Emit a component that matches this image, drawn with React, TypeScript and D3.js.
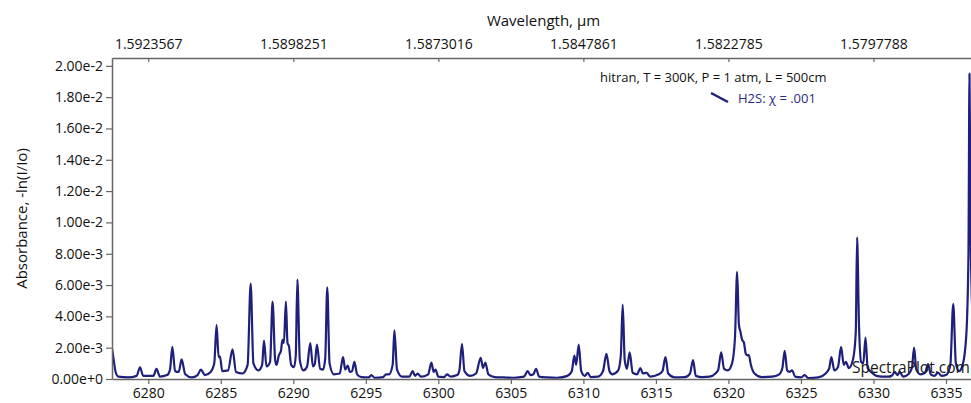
import React, { useRef, useEffect } from 'react';
import * as d3 from 'd3';

// spectrum: wavenumber (cm-1) and absorbance (x 1e-3)
const wavenumber = [
  6277.5, 6277.62, 6277.75, 6277.95, 6278.6, 6279.2, 6279.43, 6279.65, 6280.35, 6280.57,
  6280.8, 6281.3, 6281.5, 6281.66, 6281.85, 6282.1, 6282.3, 6282.55, 6283.0, 6283.4,
  6283.63, 6283.9, 6284.3, 6284.55, 6284.71, 6284.85, 6284.94, 6285.1, 6285.5, 6285.81,
  6286.05, 6286.5, 6286.85, 6287.06, 6287.25, 6287.6, 6287.85, 6287.98, 6288.15, 6288.4,
  6288.57, 6288.75, 6288.85, 6289.0, 6289.15, 6289.25, 6289.35, 6289.49, 6289.6, 6289.7,
  6289.85, 6290.05, 6290.17, 6290.28, 6290.45, 6290.7, 6290.95, 6291.17, 6291.35, 6291.48,
  6291.63, 6291.85, 6292.05, 6292.2, 6292.34, 6292.5, 6292.8, 6293.2, 6293.43, 6293.58,
  6293.75, 6293.9, 6294.05, 6294.21, 6294.4, 6294.7, 6295.2, 6295.38, 6295.6, 6296.2,
  6296.39, 6296.6, 6296.85, 6296.97, 6297.15, 6297.5, 6298.0, 6298.23, 6298.4, 6298.57,
  6298.8, 6299.3, 6299.52, 6299.68, 6299.8, 6300.0, 6300.4, 6300.6, 6300.85, 6301.3,
  6301.45, 6301.63, 6301.8, 6302.2, 6302.6, 6302.92, 6303.08, 6303.24, 6303.45, 6303.9,
  6304.5, 6305.2, 6305.9, 6306.16, 6306.35, 6306.55, 6306.74, 6306.95, 6307.5, 6308.2,
  6308.9, 6309.2, 6309.38, 6309.5, 6309.68, 6309.85, 6310.1, 6310.3, 6310.5, 6311.0,
  6311.35, 6311.59, 6311.8, 6312.0, 6312.4, 6312.58, 6312.71, 6312.85, 6313.0, 6313.19,
  6313.4, 6313.7, 6313.93, 6314.1, 6314.35, 6314.6, 6315.2, 6315.45, 6315.66, 6315.85,
  6316.3, 6317.0, 6317.35, 6317.56, 6317.75, 6318.2, 6318.7, 6319.1, 6319.3, 6319.5,
  6319.7, 6319.95, 6320.25, 6320.45, 6320.6, 6320.72, 6320.83, 6320.95, 6321.06, 6321.2,
  6321.32, 6321.4, 6321.55, 6321.8, 6322.3, 6323.0, 6323.5, 6323.72, 6323.88, 6324.05,
  6324.2, 6324.39, 6324.6, 6325.0, 6325.26, 6325.5, 6326.2, 6326.7, 6326.95, 6327.1,
  6327.3, 6327.55, 6327.77, 6327.95, 6328.1, 6328.3, 6328.6, 6328.78, 6328.87, 6329.0,
  6329.15, 6329.3, 6329.45, 6329.6, 6329.9, 6330.2, 6330.6, 6331.0, 6331.25, 6331.47,
  6331.65, 6331.8, 6332.05, 6332.4, 6332.65, 6332.8, 6332.95, 6333.25, 6333.55, 6333.77,
  6333.95, 6334.2, 6334.46, 6334.7, 6335.0, 6335.3, 6335.5, 6335.68, 6335.9, 6336.15,
  6336.4, 6336.55, 6336.62, 6336.7, 6336.85, 6337.0,
];

const absorbanceMilli = [
  1.95, 1.2, 0.45, 0.15, 0.1, 0.2, 0.75, 0.2, 0.2, 0.65,
  0.15, 0.25, 0.6, 2.05, 0.5, 0.45, 1.25, 0.3, 0.1, 0.25,
  0.6, 0.25, 0.45, 1.0, 3.45, 1.4, 1.45, 0.5, 0.55, 1.9,
  0.45, 0.35, 0.9, 6.1, 1.0, 0.55, 0.9, 2.45, 0.8, 1.1,
  4.95, 1.2, 0.9, 1.5, 1.8, 2.5, 2.3, 4.95, 2.3, 2.1,
  0.9, 0.75, 1.5, 6.35, 1.2, 0.55, 0.8, 2.3, 0.8, 0.95,
  2.2, 0.65, 0.6, 1.3, 5.85, 1.0, 0.3, 0.35, 1.4, 0.6,
  0.85, 0.45, 0.5, 1.1, 0.3, 0.12, 0.1, 0.25, 0.08, 0.12,
  0.3, 0.3, 0.9, 3.1, 0.6, 0.15, 0.15, 0.5, 0.2, 0.35,
  0.15, 0.3, 1.05, 0.45, 0.6, 0.15, 0.12, 0.3, 0.15, 0.25,
  0.55, 2.25, 0.5, 0.2, 0.35, 1.35, 0.7, 1.05, 0.3, 0.12,
  0.1, 0.08, 0.15, 0.5, 0.25, 0.3, 0.65, 0.15, 0.1, 0.08,
  0.2, 0.5, 1.5, 0.9, 2.2, 0.5, 0.2, 0.4, 0.12, 0.15,
  0.5, 1.6, 0.5, 0.3, 0.55, 1.5, 4.75, 1.2, 0.65, 1.7,
  0.4, 0.3, 0.7, 0.35, 0.4, 0.15, 0.3, 0.5, 1.4, 0.35,
  0.1, 0.12, 0.35, 1.2, 0.2, 0.12, 0.15, 0.35, 0.6, 1.7,
  0.65, 0.55, 1.0, 2.6, 6.85, 3.5, 3.0, 2.5, 2.35, 1.6,
  1.5, 1.55, 0.9, 0.35, 0.12, 0.15, 0.3, 0.7, 1.8, 0.55,
  0.45, 0.55, 0.15, 0.1, 0.25, 0.06, 0.1, 0.35, 0.7, 1.4,
  0.55, 0.75, 2.05, 0.9, 1.1, 0.7, 1.3, 3.0, 9.05, 3.5,
  1.1, 1.0, 2.65, 0.7, 0.4, 0.2, 0.15, 0.15, 0.2, 0.45,
  0.25, 0.45, 0.15, 0.3, 0.7, 2.0, 0.6, 0.3, 0.4, 0.95,
  0.3, 0.2, 0.4, 0.2, 0.25, 0.9, 4.8, 1.0, 0.5, 0.9,
  2.8, 8.0, 19.5, 9.0, 3.5, 2.0,
];

const yTicks = [0, 0.002, 0.004, 0.006, 0.008, 0.01, 0.012, 0.014, 0.016, 0.018, 0.02];
const bottomTicks = [6280, 6285, 6290, 6295, 6300, 6305, 6310, 6315, 6320, 6325, 6330, 6335];
const topTicks = [6280, 6290, 6300, 6310, 6320, 6330];
const topTickLabels = ['1.5923567', '1.5898251', '1.5873016', '1.5847861', '1.5822785', '1.5797788'];

const xDomain = [6277.5, 6337.0];
const yDomain = [0, 0.0205];

const topTitle = 'Wavelength, µm';
const yTitle = 'Absorbance, -ln(I/Io)';
const conditionsText = 'hitran, T = 300K, P = 1 atm, L = 500cm';
const seriesLabel = 'H2S: χ = .001';
const watermark = 'SpectraPlot.com';

const W = 971;
const H = 403;
const FONT = '"Open Sans", "Noto Sans", sans-serif';
const LINE_COLOR = '#1f1f7c';

const App: React.FC = () => {
  const svgRef = useRef<SVGSVGElement>(null);

  useEffect(() => {
    if (!svgRef.current) return;
    const svg = d3.select(svgRef.current);
    svg.selectAll('*').remove();

    const margin = { top: 58, left: 112, bottom: 379, right: 975 };

    const x = d3.scaleLinear().domain(xDomain).range([margin.left, margin.right]);
    const y = d3.scaleLinear().domain(yDomain).range([margin.bottom, margin.top]);

    svg.append('defs').append('clipPath')
      .attr('id', 'plot-clip')
      .append('rect')
      .attr('x', margin.left)
      .attr('y', margin.top)
      .attr('width', margin.right - margin.left)
      .attr('height', margin.bottom - margin.top);

    const points = wavenumber.map((w, i) => ({ w, a: absorbanceMilli[i] / 1000 }));

    const line = d3.line<{ w: number; a: number }>()
      .x(d => x(d.w))
      .y(d => y(d.a))
      .curve(d3.curveMonotoneX);

    svg.append('path')
      .datum(points)
      .attr('clip-path', 'url(#plot-clip)')
      .attr('fill', 'none')
      .attr('stroke', LINE_COLOR)
      .attr('stroke-width', 2.2)
      .attr('stroke-linejoin', 'round')
      .attr('d', line);

    const styleAxis = (g: d3.Selection<SVGGElement, unknown, null, undefined>) => {
      g.select('.domain').attr('stroke', '#666').attr('stroke-width', 1.5);
      g.selectAll('.tick line').attr('stroke', '#666').attr('stroke-width', 1.2);
      g.selectAll('.tick text')
        .attr('fill', '#111')
        .style('font-family', FONT)
        .style('font-size', '14px');
    };

    // left axis
    const yAxis = svg.append('g')
      .attr('transform', `translate(${margin.left},0)`)
      .call(
        d3.axisLeft(y)
          .tickValues(yTicks)
          .tickFormat(d => d3.format('.2e')(d as number))
          .tickSizeInner(6)
          .tickSizeOuter(0)
          .tickPadding(3)
      );
    styleAxis(yAxis);

    // bottom axis
    const xAxis = svg.append('g')
      .attr('transform', `translate(0,${margin.bottom})`)
      .call(
        d3.axisBottom(x)
          .tickValues(bottomTicks)
          .tickFormat(d3.format('d'))
          .tickSizeInner(5)
          .tickSizeOuter(0)
          .tickPadding(4)
      );
    styleAxis(xAxis);

    // top axis in wavelength
    const topAxis = svg.append('g')
      .attr('transform', `translate(0,${margin.top})`)
      .call(
        d3.axisTop(x)
          .tickValues(topTicks)
          .tickFormat((_d, i) => topTickLabels[i])
          .tickSizeInner(-4)
          .tickSizeOuter(0)
          .tickPadding(9)
      );
    styleAxis(topAxis);

    svg.append('text')
      .attr('x', (margin.left + margin.right) / 2)
      .attr('y', 26)
      .attr('text-anchor', 'middle')
      .style('font-family', FONT)
      .style('font-size', '15px')
      .attr('fill', '#111')
      .text(topTitle);

    svg.append('text')
      .attr('transform', `translate(27,${(margin.top + margin.bottom) / 2}) rotate(-90)`)
      .attr('text-anchor', 'middle')
      .style('font-family', FONT)
      .style('font-size', '15px')
      .attr('fill', '#111')
      .text(yTitle);

    // legend
    svg.append('text')
      .attr('x', 600)
      .attr('y', 82)
      .style('font-family', FONT)
      .style('font-size', '13px')
      .attr('fill', '#111')
      .text(conditionsText);

    svg.append('line')
      .attr('x1', 711)
      .attr('y1', 93)
      .attr('x2', 728)
      .attr('y2', 102)
      .attr('stroke', LINE_COLOR)
      .attr('stroke-width', 2.5);

    svg.append('text')
      .attr('x', 738)
      .attr('y', 103)
      .style('font-family', FONT)
      .style('font-size', '13px')
      .attr('fill', '#2a2a86')
      .text(seriesLabel);

    svg.append('text')
      .attr('x', 852)
      .attr('y', 373)
      .style('font-family', FONT)
      .style('font-size', '15.5px')
      .attr('fill', '#1a1a1a')
      .text(watermark);
  }, []);

  return (
    <div style={{ position: 'absolute', left: 0, top: 0, width: W, height: H, overflow: 'hidden', background: '#fff' }}>
      <svg ref={svgRef} width={W} height={H} style={{ display: 'block' }} />
    </div>
  );
};

export default App;
